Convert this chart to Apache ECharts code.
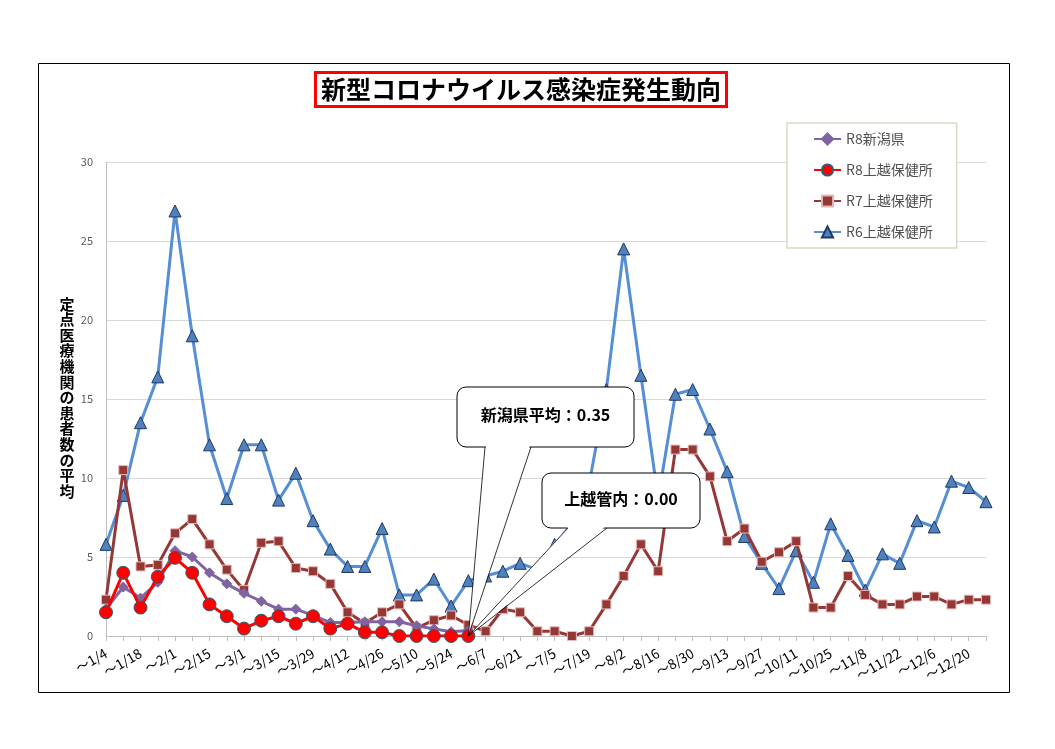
<!DOCTYPE html>
<html>
<head>
<meta charset="utf-8">
<script src="https://cdn.jsdelivr.net/npm/echarts@6/dist/echarts.min.js"></script>
<style>
html,body{margin:0;padding:0;background:#fff;}
#main{width:1055px;height:749px;}
</style>
</head>
<body>
<div id="main"></div>
<script>
const categories = ["～1/4","～1/11","～1/18","～1/25","～2/1","～2/8","～2/15","～2/22","～3/1","～3/8","～3/15","～3/22","～3/29","～4/5","～4/12","～4/19","～4/26","～5/3","～5/10","～5/17","～5/24","～5/31","～6/7","～6/14","～6/21","～6/28","～7/5","～7/12","～7/19","～7/26","～8/2","～8/9","～8/16","～8/23","～8/30","～9/6","～9/13","～9/20","～9/27","～10/4","～10/11","～10/18","～10/25","～11/1","～11/8","～11/15","～11/22","～11/29","～12/6","～12/13","～12/20","～12/27"];

const r8Niigata = [1.7,3.1,2.4,3.4,5.4,5.0,4.0,3.3,2.7,2.2,1.7,1.7,1.3,0.85,0.85,0.9,0.9,0.9,0.65,0.45,0.27,0.35];
const r8Joetsu = [1.5,4.0,1.8,3.75,4.95,4.0,2.0,1.25,0.47,0.97,1.25,0.78,1.25,0.47,0.78,0.23,0.23,0,0,0,0,0];
const r7Joetsu = [2.3,10.5,4.4,4.5,6.5,7.4,5.8,4.2,2.9,5.9,6.0,4.3,4.1,3.3,1.5,0.8,1.5,2.0,0.5,1.0,1.3,0.7,0.3,1.7,1.5,0.3,0.3,0.0,0.3,2.0,3.8,5.8,4.1,11.8,11.8,10.1,6.0,6.8,4.7,5.3,6.0,1.8,1.8,3.8,2.6,2.0,2.0,2.5,2.5,2.0,2.3,2.3];
const r6Joetsu = [5.8,8.9,13.5,16.4,26.9,19.0,12.1,8.7,12.1,12.1,8.6,10.3,7.3,5.5,4.4,4.4,6.8,2.6,2.6,3.6,1.9,3.5,3.8,4.1,4.6,4.2,5.8,7.1,9.6,15.6,24.5,16.5,8.7,15.3,15.6,13.1,10.4,6.3,4.6,3.0,5.4,3.4,7.1,5.1,2.9,5.2,4.6,7.3,6.9,9.8,9.4,8.5];

const seriesNames = ["R8新潟県","R8上越保健所","R7上越保健所","R6上越保健所"];
const yTicks = [0,5,10,15,20,25,30];
const titleText = "新型コロナウイルス感染症発生動向";
const yAxisTitle = "定点医療機関の患者数の平均";
const calloutNiigata = "新潟県平均：0.35";
const calloutJoetsu = "上越管内：0.00";
const calloutIndex = 21;

const FONT = '"Noto Sans CJK JP", "Noto Sans", sans-serif';
const chart = echarts.init(document.getElementById('main'), null, {renderer: 'canvas'});

const option = {
  backgroundColor: '#ffffff',
  animation: false,
  textStyle: {fontFamily: FONT},
  title: {
    text: titleText,
    left: 315, top: 72,
    padding: [3, 6, 3, 6],
    borderColor: '#ff0000', borderWidth: 3,
    textStyle: {fontFamily: FONT, fontSize: 25, fontWeight: 'bold', color: '#000', lineHeight: 29}
  },
  legend: {
    orient: 'vertical',
    left: 787, top: 123,
    padding: [9, 24, 9, 26],
    itemWidth: 27, itemHeight: 14, itemGap: 17,
    borderColor: '#ddd8c6', borderWidth: 1.5,
    backgroundColor: '#fff',
    textStyle: {fontFamily: FONT, fontSize: 14, color: '#505050'},
    data: seriesNames
  },
  grid: {left: 106, right: 69, top: 162, bottom: 113, containLabel: false},
  xAxis: {
    type: 'category',
    data: categories,
    boundaryGap: false,
    axisLine: {lineStyle: {color: '#bfbfbf', width: 1}},
    axisTick: {show: true, interval: 0, length: 5, lineStyle: {color: '#bfbfbf'}},
    axisLabel: {interval: 1, rotate: 30, margin: 16, fontSize: 13.5, color: '#000', fontFamily: FONT},
    splitLine: {show: false}
  },
  yAxis: {
    type: 'value',
    min: yTicks[0], max: yTicks[yTicks.length - 1], interval: 5,
    axisLine: {show: true, lineStyle: {color: '#bfbfbf'}},
    axisTick: {show: false},
    axisLabel: {fontSize: 11, color: '#595959', margin: 13, fontFamily: FONT},
    splitLine: {lineStyle: {color: '#d9d9d9', width: 1}}
  },
  series: [
    {
      name: seriesNames[0], type: 'line', data: r8Niigata, z: 4,
      symbol: 'diamond', symbolSize: 10, showAllSymbol: true,
      lineStyle: {color: '#8064a2', width: 3},
      itemStyle: {color: '#8064a2', borderColor: '#8064a2', borderWidth: 1}
    },
    {
      name: seriesNames[1], type: 'line', data: r8Joetsu, z: 5,
      symbol: 'circle', symbolSize: 13, showAllSymbol: true,
      lineStyle: {color: '#ff0000', width: 3},
      itemStyle: {color: '#ff0000', borderColor: '#2f5f6f', borderWidth: 1}
    },
    {
      name: seriesNames[2], type: 'line', data: r7Joetsu, z: 3,
      symbol: 'rect', symbolSize: 9, showAllSymbol: true,
      lineStyle: {color: '#953735', width: 3},
      itemStyle: {color: '#953735', borderColor: '#e6b9b8', borderWidth: 1}
    },
    {
      name: seriesNames[3], type: 'line', data: r6Joetsu, z: 2,
      symbol: 'triangle', symbolSize: 12, showAllSymbol: true,
      lineStyle: {color: '#558ed5', width: 3},
      itemStyle: {color: '#4f81bd', borderColor: '#1f3864', borderWidth: 1}
    }
  ]
};
chart.setOption(option);

// annotations
const tip = chart.convertToPixel({xAxisIndex: 0, yAxisIndex: 0}, [calloutIndex, r8Joetsu[calloutIndex]]);

function callout(box, base, text, fontSize) {
  const els = [];
  els.push({
    type: 'rect', z: 100,
    shape: {x: box[0], y: box[1], width: box[2], height: box[3], r: 9},
    style: {fill: '#fff', stroke: '#000', lineWidth: 1}
  });
  els.push({
    type: 'polygon', z: 101,
    shape: {points: [[base[0] + 1, box[1] + box[3] - 2], [base[1] - 1, box[1] + box[3] - 2], [tip[0], tip[1]]]},
    style: {fill: '#fff', stroke: null}
  });
  els.push({
    type: 'polyline', z: 102,
    shape: {points: [[base[0], box[1] + box[3]], [tip[0], tip[1]], [base[1], box[1] + box[3]]]},
    style: {stroke: '#000', lineWidth: 0.8, fill: null}
  });
  els.push({
    type: 'text', z: 103,
    x: box[0] + box[2] / 2, y: box[1] + box[3] / 2 - 2,
    style: {text: text, fill: '#000', font: 'bold ' + fontSize + 'px ' + FONT, align: 'center', verticalAlign: 'middle'}
  });
  return els;
}

const graphics = [];
graphics.push({
  type: 'rect', z: -10, silent: true,
  shape: {x: 38.5, y: 63.5, width: 971, height: 629},
  style: {fill: null, stroke: '#000', lineWidth: 1}
});
graphics.push({
  type: 'text', z: 50,
  x: 67, y: 296,
  style: {
    text: yAxisTitle.split('').join('\n'),
    fill: '#000', font: 'bold 15px ' + FONT,
    align: 'center', verticalAlign: 'top', lineHeight: 15.6
  }
});
callout([457, 387, 177, 60], [485, 531], calloutNiigata, 16).forEach(e => graphics.push(e));
callout([542, 473, 158, 55], [568, 607], calloutJoetsu, 16).forEach(e => graphics.push(e));

chart.setOption({graphic: graphics});
</script>
</body>
</html>
